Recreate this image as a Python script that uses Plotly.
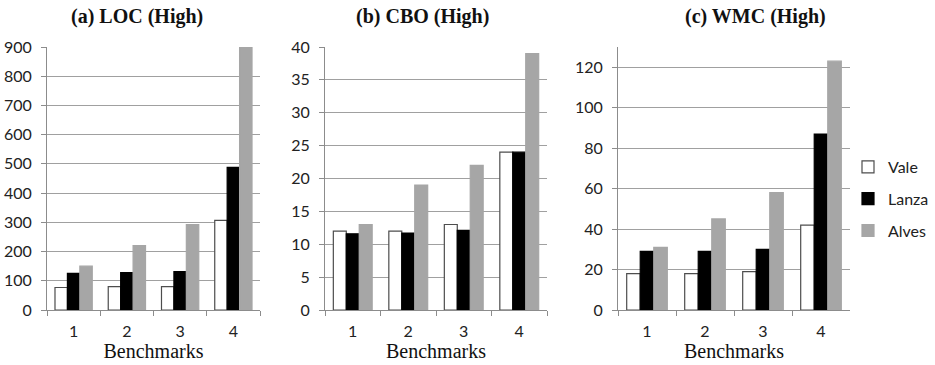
import plotly.graph_objects as go

categories = ["1", "2", "3", "4"]
series_names = ["Vale", "Lanza", "Alves"]

loc_vale = [77, 80, 80, 307]
loc_lanza = [125, 128, 131, 488]
loc_alves = [150, 220, 292, 900]

cbo_vale = [12, 12, 13, 24]
cbo_lanza = [11.6, 11.7, 12.1, 24]
cbo_alves = [13, 19, 22, 39]

wmc_vale = [18, 18, 19, 42]
wmc_lanza = [29, 29, 30, 87]
wmc_alves = [31, 45, 58, 123]

titles = ["(a) LOC (High)", "(b) CBO (High)", "(c) WMC (High)"]
x_title = "Benchmarks"

panels = [
    (loc_vale, loc_lanza, loc_alves, [0, 900], 100),
    (cbo_vale, cbo_lanza, cbo_alves, [0, 40], 5),
    (wmc_vale, wmc_lanza, wmc_alves, [0, 130], 20),
]

W, H = 935, 365
x_px = [(47, 260), (325, 547), (618, 850)]
y_px = (47, 310)
title_cx = [137, 422, 755]

fill = ["white", "black", "#a6a6a6"]
line = ["#4d4d4d", "black", "#a6a6a6"]
sans = "Lato, Open Sans, sans-serif"
serif = "Liberation Serif, Times New Roman, serif"

fig = go.Figure()
layout = {}
for i, (v, l, a, rng, dt) in enumerate(panels):
    n = "" if i == 0 else str(i + 1)
    for j, vals in enumerate([v, l, a]):
        fig.add_trace(go.Bar(
            x=categories, y=vals, name=series_names[j],
            marker=dict(color=fill[j], line=dict(color=line[j], width=1.2)),
            xaxis="x" + n, yaxis="y" + n,
            showlegend=(i == 2), legendgroup=series_names[j],
        ))
    x0, x1 = x_px[i]
    layout["xaxis" + n] = dict(
        domain=[x0 / W, x1 / W], anchor="y" + n, type="category",
        showline=True, linecolor="#8c8c8c", linewidth=1,
        ticks="outside", tickson="boundaries", ticklen=5, tickcolor="#8c8c8c",
        ticklabelstandoff=7,
        tickfont=dict(family=sans, size=16, color="#222"),
        title=dict(text=x_title, font=dict(family=serif, size=20, color="#111"), standoff=1),
        showgrid=False, zeroline=False, automargin=False,
    )
    layout["yaxis" + n] = dict(
        domain=[1 - y_px[1] / H, 1 - y_px[0] / H], anchor="x" + n,
        range=rng, dtick=dt, tick0=0,
        showline=True, linecolor="#8c8c8c", linewidth=1,
        ticks="outside", ticklen=5, tickcolor="#8c8c8c",
        ticklabelstandoff=6,
        showgrid=True, gridcolor="#a0a0a0", gridwidth=1,
        zeroline=False, automargin=False,
        tickfont=dict(family=sans, size=16, color="#222"),
    )

annotations = []
for i, t in enumerate(titles):
    annotations.append(dict(
        text="<b>" + t + "</b>", x=title_cx[i] / W, y=1 - 16 / H, xref="paper", yref="paper",
        showarrow=False, xanchor="center", yanchor="middle",
        font=dict(family=serif, size=20, color="#111"),
    ))

fig.update_layout(
    **layout,
    width=W, height=H,
    margin=dict(l=0, r=0, t=0, b=0, autoexpand=False),
    paper_bgcolor="white", plot_bgcolor="white",
    barmode="group", bargap=0.3, bargroupgap=0,
    annotations=annotations,
    legend=dict(x=848 / W, y=1 - 199 / H, xanchor="left", yanchor="middle",
                font=dict(family=sans, size=16, color="#222"),
                tracegroupgap=8, itemwidth=30, bgcolor="rgba(0,0,0,0)"),
)

fig.write_html("out.html", config={"displayModeBar": False},
               post_script="document.body.style.margin='0';")
